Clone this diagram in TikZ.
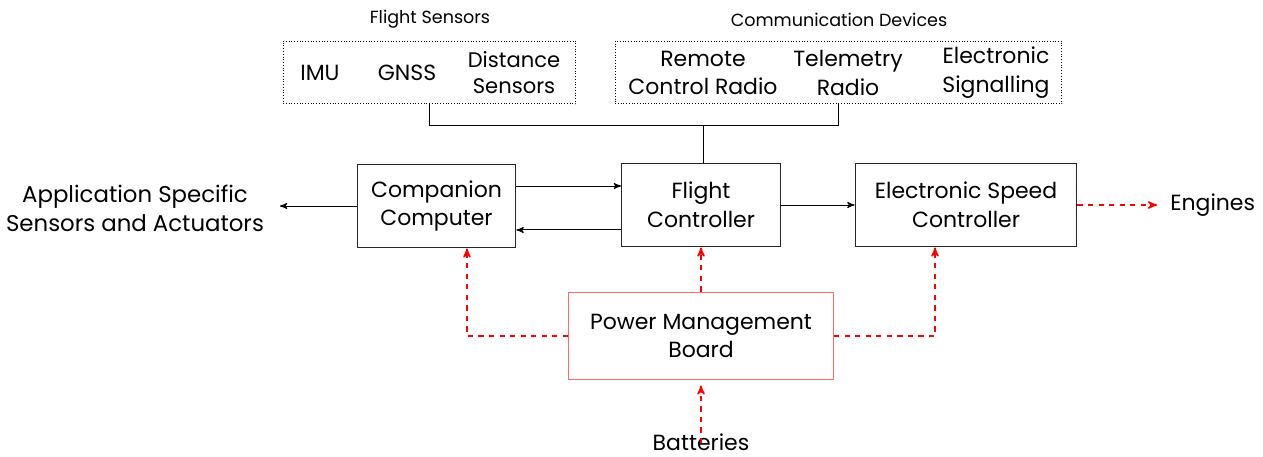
\documentclass[tikz,border=0pt]{standalone}
\usepackage{fontspec}
\setmainfont{Poppins}
\usetikzlibrary{positioning}
\usetikzlibrary{arrows}
\usetikzlibrary{calc}

\tikzset{
  block/.style={draw=black!85, line width=0.2mm, align=center, inner sep=0pt,
    font=\fontsize{12.5}{16.4}\selectfont},
  group/.style={draw, densely dotted, line width=0.2mm, inner sep=0pt},
  item/.style={align=center, inner sep=0pt, font=\fontsize{12.5}{16.4}\selectfont},
  title/.style={inner sep=0pt, font=\fontsize{10}{11}\selectfont},
  signal/.style={->, >=stealth', line width=0.2mm},
  power/.style={->, >=stealth', red, dashed, line width=0.3mm},
}

\begin{document}
\begin{tikzpicture}[x=0.02cm, y=-0.02cm]

  \useasboundingbox (0,0) rectangle (1263,456);

  % sensor and radio groups
  \node[group, minimum width=5.86cm, minimum height=1.26cm] (sens) at (429.5,72.5) {};
  \node[title] (senstitle) at (430,19) {Flight Sensors};
  \node[item] (imu)  at (320,73) {IMU};
  \node[item] (gnss) at (407,73) {GNSS};
  \node[item, font=\fontsize{12}{14.8}\selectfont] (dist) at (514,73) {Distance\\Sensors};

  \node[group, minimum width=8.94cm, minimum height=1.26cm] (comm) at (838.5,72.5) {};
  \node[title] (commtitle) at (839,20) {Communication Devices};
  \node[item] (rc)  at (703,73) {Remote\\Control Radio};
  \node[item] (tel) at (848,73) {Telemetry\\Radio};
  \node[item] (sig) at (996,73) {Electronic\\Signalling};

  % main blocks
  \node[block, minimum width=3.18cm, minimum height=1.68cm] (cc)  at (436.5,206) {Companion\\Computer};
  \node[block, minimum width=3.18cm, minimum height=1.68cm] (fc)  at (701,205) {Flight\\Controller};
  \node[block, minimum width=4.44cm, minimum height=1.68cm] (esc) at (966,205) {Electronic Speed\\Controller};
  \node[block, draw=red!60, minimum width=5.3cm, minimum height=1.76cm] (pmb) at (701,336) {Power Management\\Board};

  % outer ends
  \node[item, font=\fontsize{13}{16.4}\selectfont] (app) at (135,208) {Application Specific\\Sensors and Actuators};
  \node[item, anchor=west] (eng) at (1170,205) {Engines};
  \node[item] (bat)  at (701,442) {Batteries};
  \coordinate (appin) at (280,206);

  % data bus
  \coordinate (bus) at (703,125);
  \draw[line width=0.2mm] (sens.south) -- ++(0,21) -| (comm.south);
  \draw[line width=0.2mm] (bus) -- (bus |- fc.north);

  % data links
  \draw[signal] (cc.west) -- (appin);
  \draw[signal] ([yshift=0.4cm]cc.east) -- ([yshift=0.4cm]cc.east -| fc.west);
  \draw[signal] ([yshift=-0.5cm]fc.west) -- ([yshift=-0.5cm]fc.west -| cc.east);
  \draw[signal] (fc.east) -- (esc.west);

  % power lines
  \draw[power] (esc.east) -- ([xshift=-0.26cm]eng.west);
  \draw[power] (pmb.west) -| ([xshift=0.61cm]cc.south);
  \draw[power] (pmb.north) -- (fc.south);
  \draw[power] (pmb.east) -| ([xshift=-0.62cm]esc.south);
  \draw[power] ([yshift=-0.2cm]bat.north) -- ([yshift=-0.1cm]pmb.south);

\end{tikzpicture}
\end{document}
